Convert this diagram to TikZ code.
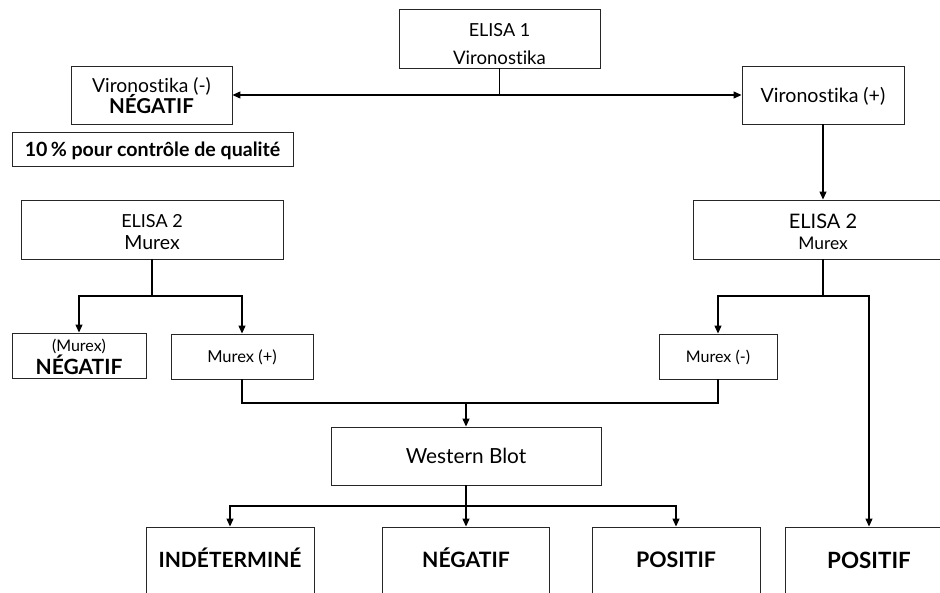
\documentclass[tikz,border=0pt]{standalone}
\usepackage{fontspec}
\setmainfont{Lato}[Ligatures=NoCommon]
\usetikzlibrary{arrows.meta}
\newcommand\fsz[2]{\fontsize{#1}{#2}\selectfont}
\newcommand\topst[1]{\rule{0pt}{#1}}
\newcommand\botst[1]{\rule[-#1]{0pt}{#1}}
\begin{document}
\begin{tikzpicture}[x=1pt,y=-1pt,
  box/.style={draw=black!85, line width=0.9pt, inner sep=0pt, align=center, fill=white},
  capht/.style={text height=#1, text depth=0pt},
  wire/.style={line width=1.2pt, black},
  conn/.style={line width=1.2pt, black, -{Triangle[length=8pt,width=7pt]}}]
\lineskiplimit=-100pt
\useasboundingbox (0,0) rectangle (940,592);
\fill[white] (0,0) rectangle (940,592);
\clip (0,0) rectangle (940,592);
% boxes
\node[box, minimum width=201pt, minimum height=59pt, font={\fsz{18}{28}}] (e1) at (499.5,38.5)
  {\topst{24pt}ELISA 1\\\fsz{18.6}{28}Vironostika\botst{1pt}};
\node[box, minimum width=161pt, minimum height=58pt, font={\fsz{19.3}{21}}] (vneg) at (151.5,95)
  {\topst{20pt}Vironostika (-)\\\fsz{20.5}{21}\bfseries NÉGATIF\botst{5pt}};
\node[box, minimum width=281pt, minimum height=34pt, capht=14pt, font={\fsz{19.6}{22}\bfseries}] (qc) at (152.5,149)
  {10\,\% pour contrôle de qualité};
\node[box, minimum width=162pt, minimum height=58pt, capht=14pt, font={\fsz{19.6}{22}}] (vpos) at (823,95)
  {Vironostika (+)};
\node[box, minimum width=262pt, minimum height=59pt, font={\fsz{18}{22}}] (e2l) at (152,229.5)
  {\topst{18pt}ELISA 2\\\fsz{19.5}{22}Murex\botst{1pt}};
\node[box, minimum width=260pt, minimum height=59pt, font={\fsz{20}{21}}] (e2r) at (823,229.5)
  {\topst{19pt}ELISA 2\\\fsz{17.4}{21}Murex\botst{1pt}};
\node[box, minimum width=134pt, minimum height=45pt, font={\fsz{16}{23}}] (mneg) at (79,355.5)
  {\topst{15pt}(Murex)\\\fsz{21}{23}\bfseries NÉGATIF\botst{1pt}};
\node[box, minimum width=142pt, minimum height=45pt, capht=11.8pt, font={\fsz{16.5}{19}}] (mplus) at (242,356.5)
  {Murex (+)};
\node[box, minimum width=118pt, minimum height=45pt, capht=11.5pt, font={\fsz{16}{19}}] (mminus) at (718,356.5)
  {Murex (-)};
\node[box, minimum width=270pt, minimum height=58pt, capht=14.9pt, font={\fsz{20.8}{24}}] (wb) at (466,456)
  {Western Blot};
\node[box, minimum width=168pt, minimum height=66pt, capht=15pt, font={\fsz{21}{24}\bfseries}] (ind) at (230,560)
  {INDÉTERMINÉ};
\node[box, minimum width=167pt, minimum height=66pt, capht=15.2pt, font={\fsz{21.2}{24}\bfseries}] (neg) at (466,560)
  {NÉGATIF};
\node[box, minimum width=168pt, minimum height=66pt, capht=15.3pt, font={\fsz{21.4}{24}\bfseries}] (pos1) at (676,560)
  {POSITIF};
\node[box, minimum width=168pt, minimum height=66pt, capht=16pt, font={\fsz{22.4}{24}\bfseries}] (pos2) at (869,560)
  {POSITIF};
% junctions
\coordinate (j2) at (152,296);
\coordinate (j3) at (823,296);
\coordinate (j4) at (466,403);
\coordinate (j5) at (466,506);
% connectors
\draw[conn] (e1.south) |- (vneg.east);
\draw[conn] (e1.south) |- (vpos.west);
\draw[conn] (vpos.south) -- (e2r.north);
\draw[wire] (e2l.south) -- (j2);
\draw[conn] (j2) -| (mneg.north);
\draw[conn] (j2) -| (mplus.north);
\draw[wire] (e2r.south) -- (j3);
\draw[conn] (j3) -| (mminus.north);
\draw[conn] (j3) -| (pos2.north);
\draw[wire] (mplus.south) |- (j4);
\draw[wire] (mminus.south) |- (j4);
\draw[conn] (j4) -- (wb.north);
\draw[wire] (wb.south) -- (j5);
\draw[conn] (j5) -| (ind.north);
\draw[conn] (j5) -- (neg.north);
\draw[conn] (j5) -| (pos1.north);
\end{tikzpicture}
\end{document}
